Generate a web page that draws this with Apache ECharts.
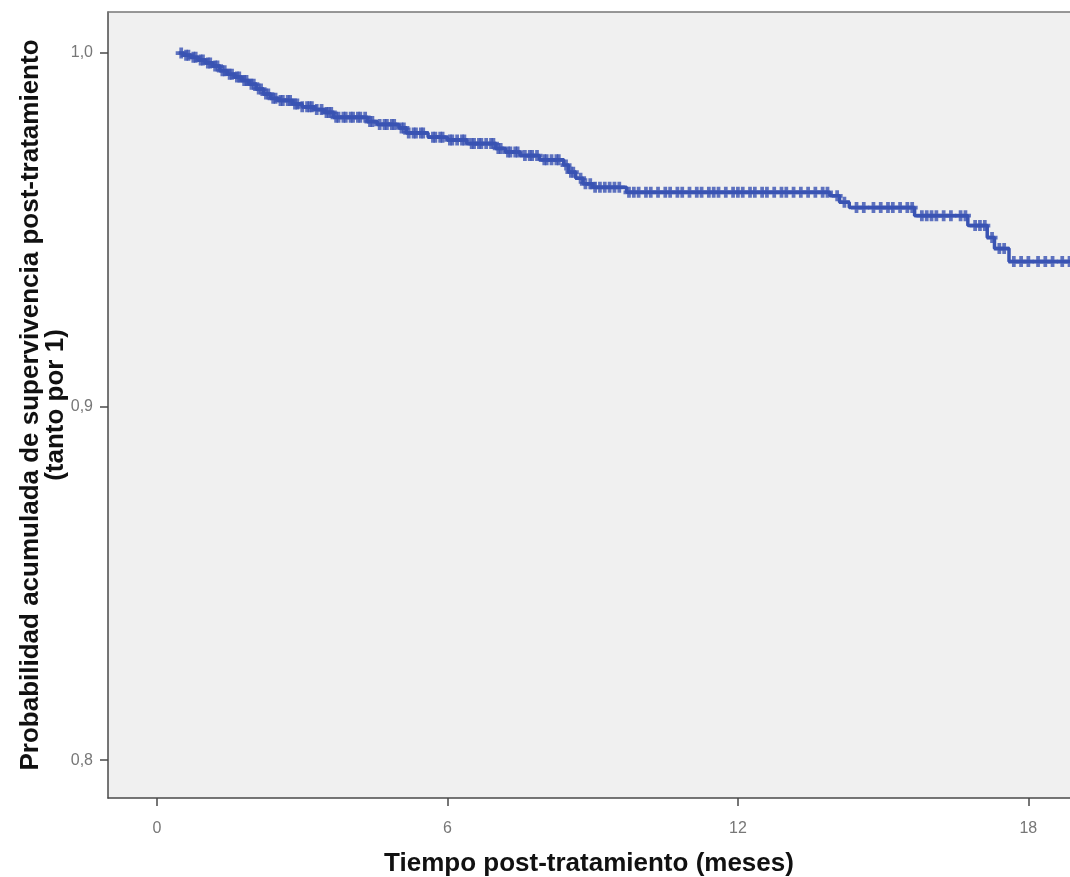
<!DOCTYPE html>
<html>
<head>
    <meta charset="UTF-8">
    <style>
      html, body { margin: 0; padding: 0; background: #fff; }
      #main { width: 1070px; height: 877px; }
    </style>
</head>
<body>
<div id="main"></div>
<script src="https://cdn.jsdelivr.net/npm/echarts@6/dist/echarts.min.js"></script>
<script>
    // Kaplan-Meier step curve: time (months) where survival drops, and the level from there on
    var stepTimes = [0.45, 0.55, 0.7, 0.85, 1.0, 1.15, 1.3, 1.45, 1.6, 1.75, 1.9, 2.05, 2.2, 2.35, 2.5, 2.8,
        3.0, 3.25, 3.45, 3.65, 4.35, 4.55, 5.0, 5.15, 5.6, 6.0, 6.4, 7.0, 7.2, 7.5, 7.9, 8.4, 8.5,
        8.65, 8.8, 9.0, 9.7, 13.9, 14.1, 14.3, 15.65, 16.75, 17.15, 17.3, 17.6];
    var stepSurv = [1.0, 0.9994, 0.9988, 0.9980, 0.9972, 0.9963, 0.9950, 0.9940, 0.9932, 0.9922, 0.9912,
        0.9898, 0.9884, 0.9872, 0.9866, 0.9856, 0.9848, 0.9840, 0.9832, 0.9818, 0.9806, 0.9798, 0.9788,
        0.9774, 0.9762, 0.9754, 0.9744, 0.9730, 0.9720, 0.9710, 0.9698, 0.9683, 0.9663, 0.9646, 0.9630,
        0.9620, 0.9606, 0.9596, 0.9578, 0.9563, 0.9540, 0.9512, 0.9478, 0.9447, 0.9410];
    var lastTime = 18.86;

    // censored cases (marked with +)
    var censorTimes = [0.5, 0.6, 0.65, 0.75, 0.8, 0.9, 0.95, 1.05, 1.1, 1.2, 1.25, 1.35, 1.4, 1.5, 1.55,
        1.65, 1.7, 1.8, 1.85, 1.95, 2.0, 2.1, 2.15, 2.25, 2.3, 2.4, 2.45, 2.55, 2.6, 2.7, 2.75, 2.85, 2.9,
        3.0, 3.1, 3.15, 3.2, 3.3, 3.4, 3.5, 3.55, 3.6, 3.7, 3.75, 3.85, 3.9, 4.0, 4.05, 4.15, 4.2, 4.3,
        4.4, 4.45, 4.6, 4.7, 4.75, 4.85, 4.9, 5.05, 5.1, 5.2, 5.3, 5.35, 5.45, 5.5, 5.7, 5.75, 5.85, 5.9,
        6.05, 6.1, 6.2, 6.3, 6.35, 6.5, 6.55, 6.65, 6.7, 6.8, 6.9, 6.95, 7.05, 7.1, 7.25, 7.3, 7.4, 7.45,
        7.6, 7.7, 7.75, 7.85, 8.0, 8.05, 8.15, 8.25, 8.3, 8.45, 8.55, 8.6, 8.75, 8.85, 8.95, 9.05, 9.15,
        9.25, 9.35, 9.45, 9.55, 9.75, 9.85, 9.95, 10.1, 10.2, 10.35, 10.5, 10.6, 10.75, 10.85, 11.0, 11.15,
        11.25, 11.4, 11.5, 11.6, 11.75, 11.9, 12.0, 12.1, 12.25, 12.35, 12.5, 12.6, 12.75, 12.9, 13.0,
        13.15, 13.3, 13.45, 13.6, 13.75, 13.85, 14.05, 14.2, 14.45, 14.6, 14.8, 14.95, 15.1, 15.2, 15.35,
        15.5, 15.6, 15.8, 15.9, 16.0, 16.1, 16.25, 16.4, 16.6, 16.7, 16.9, 17.0, 17.1, 17.25, 17.4, 17.5,
        17.7, 17.85, 18.0, 18.2, 18.35, 18.5, 18.7, 18.85];

    var xTicks = [0, 6, 12, 18];
    var yTicks = [0.8, 0.9, 1.0];

    function survAt(t) {
        var s = stepSurv[0];
        for (var i = 0; i < stepTimes.length; i++) {
            if (stepTimes[i] <= t) s = stepSurv[i];
        }
        return s;
    }

    var lineData = stepTimes.map(function (t, i) { return [t, stepSurv[i]]; });
    lineData.push([lastTime, stepSurv[stepSurv.length - 1]]);
    var censorData = censorTimes.map(function (t) { return [t, survAt(t)]; });

    var blue = '#3953b3';
    var plusSymbol = 'path://M3.3,0H6.7V3.3H10V6.7H6.7V10H3.3V6.7H0V3.3H3.3Z';
    var axisColor = '#4a4a4a';

    var myChart = echarts.init(document.getElementById('main'));
    var option = {
        animation: false,
        textStyle: { fontFamily: 'Liberation Sans, Arial, sans-serif' },
        grid: {
            left: 108, top: 12, right: 0, bottom: 79,
            outerBoundsMode: 'none',
            show: true,
            backgroundColor: '#f0f0f0',
            borderWidth: 0
        },
        xAxis: [{
            type: 'value',
            min: -1.012,
            max: lastTime,
            name: 'Tiempo post-tratamiento (meses)',
            nameLocation: 'middle',
            nameGap: 53,
            nameMoveOverlap: false,
            nameTextStyle: { fontSize: 26, fontWeight: 'bold', color: '#111' },
            axisLine: { onZero: false, lineStyle: { color: axisColor, width: 1.5 } },
            axisTick: { customValues: xTicks, length: 8, lineStyle: { color: axisColor, width: 1.5 } },
            axisLabel: { customValues: xTicks, color: '#777', fontSize: 16, margin: 23 },
            splitLine: { show: false }
        }, {
            // top frame line of the plot
            type: 'value',
            position: 'top',
            min: -1.012,
            max: lastTime,
            axisLine: { show: true, onZero: false, lineStyle: { color: '#777', width: 1.5 } },
            axisTick: { show: false },
            axisLabel: { show: false },
            splitLine: { show: false }
        }],
        yAxis: {
            type: 'value',
            min: 0.7893,
            max: 1.0116,
            name: 'Probabilidad acumulada de supervivencia post-tratamiento\n(tanto por 1)',
            nameLocation: 'middle',
            nameGap: 40,
            nameMoveOverlap: false,
            nameTextStyle: { fontSize: 26, fontWeight: 'bold', color: '#111', lineHeight: 25, align: 'center' },
            axisLine: { show: true, onZero: false, lineStyle: { color: axisColor, width: 1.5 } },
            axisTick: { show: true, customValues: yTicks, length: 8, lineStyle: { color: axisColor, width: 1.5 } },
            axisLabel: {
                customValues: yTicks, color: '#777', fontSize: 16, margin: 15,
                formatter: function (v) { return v.toFixed(1).replace('.', ','); }
            },
            splitLine: { show: false }
        },
        series: [
            {
                type: 'line',
                step: 'end',
                data: lineData,
                showSymbol: false,
                lineStyle: { color: blue, width: 3.5 }
            },
            {
                type: 'scatter',
                data: censorData,
                symbol: plusSymbol,
                symbolSize: 11,
                itemStyle: { color: blue }
            }
        ]
    };

    myChart.setOption(option);
</script>
</body>
</html>
